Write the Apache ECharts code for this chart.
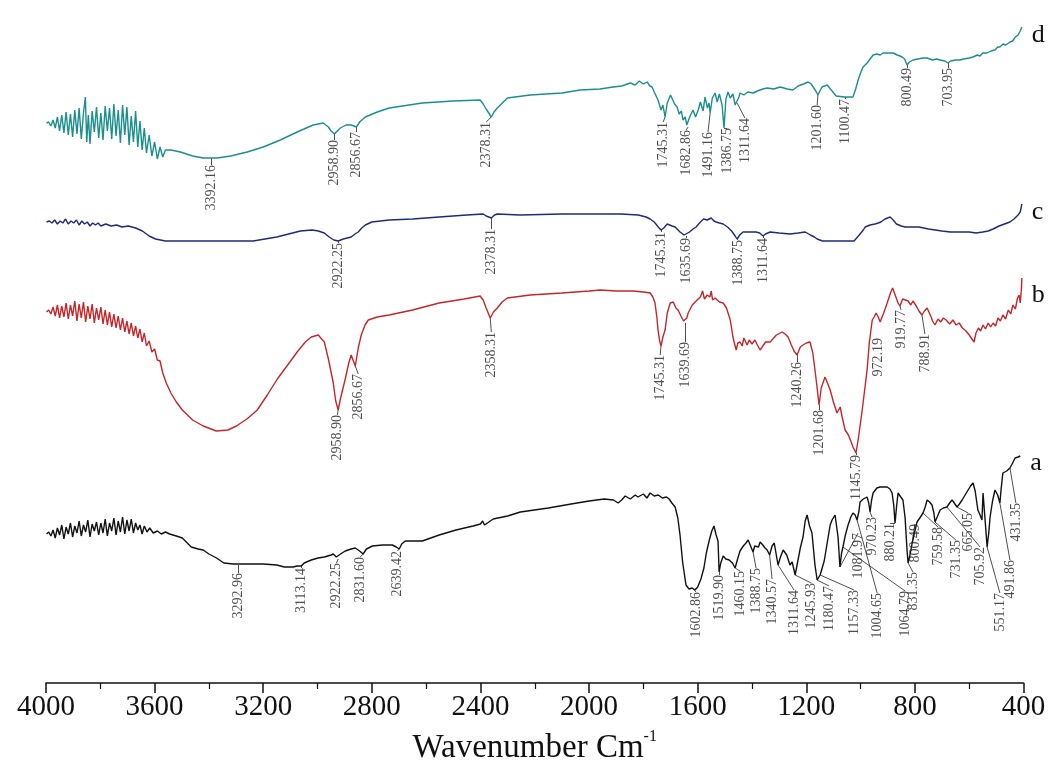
<!DOCTYPE html>
<html><head><meta charset="utf-8">
<script src="https://cdn.jsdelivr.net/npm/echarts@6/dist/echarts.min.js"></script>
<style>html,body{margin:0;padding:0;background:#fff}#c{width:1051px;height:771px}</style>
</head><body><div id="c"></div>
<script>
// x: wavenumber (cm-1), y: relative transmittance (arbitrary offset units)
const xTicks = [4000,3600,3200,2800,2400,2000,1600,1200,800,400];
const seriesNames = ['a','b','c','d'];
const seriesColors = ['#111111','#c4262a','#1f2a78','#1b8f8c'];

const traceA = [[3998,149],[3990,151],[3982,147],[3974,153],[3966,145],[3958,155],[3950,148],[3942,158],[3934,144],[3926,156],[3918,149],[3910,160],[3902,146],[3894,157],[3886,150],[3878,162],[3870,147],[3862,158],[3854,151],[3846,163],[3838,146],[3830,159],[3822,152],[3814,161],[3806,148],[3798,160],[3790,150],[3782,164],[3774,147],[3766,160],[3758,152],[3750,165],[3742,148],[3734,162],[3726,151],[3718,166],[3710,149],[3702,163],[3694,152],[3686,164],[3678,150],[3670,160],[3662,153],[3654,158],[3646,149],[3638,157],[3628,151],[3618,155],[3605,150],[3590,152],[3575,149],[3560,151],[3545,149],[3520,147],[3498,145],[3465,136],[3440,134],[3421,133],[3400,129],[3372,125],[3345,120],[3310,119],[3270,119],[3237,119],[3200,119],[3150,118],[3122,116],[3090,116],[3075,117],[3060,117],[3049,120],[3023,123],[2998,125],[2975,126],[2950,128],[2942,129],[2931,126],[2924,124],[2915,129],[2898,132],[2876,134],[2861,135],[2845,132],[2832,129],[2820,134],[2798,137],[2760,138],[2725,138],[2710,136],[2699,134],[2690,139],[2677,142],[2614,142],[2552,148],[2490,153],[2427,157],[2400,159],[2392,162],[2385,158],[2353,164],[2300,167],[2253,171],[2150,175],[2066,179],[2000,182],[1944,184],[1910,183],[1893,180],[1880,183],[1867,187],[1848,184],[1830,188],[1820,186],[1800,189],[1787,185],[1775,190],[1760,187],[1745,188],[1730,185],[1715,186],[1705,184],[1695,180],[1683,176],[1673,165],[1665,148],[1655,120],[1643,98],[1632,94],[1620,95],[1610,93],[1600,96],[1588,104],[1577,115],[1568,130],[1558,142],[1548,152],[1540,157],[1532,148],[1525,142],[1521,111],[1515,120],[1506,127],[1496,124],[1484,123],[1472,120],[1462,115],[1452,125],[1444,132],[1432,137],[1422,140],[1414,143],[1407,142],[1396,131],[1390,137],[1384,139],[1376,136],[1370,141],[1360,138],[1352,135],[1344,133],[1335,128],[1326,137],[1318,140],[1304,118],[1295,126],[1285,133],[1272,128],[1260,118],[1252,121],[1241,108],[1234,110],[1222,135],[1212,146],[1204,162],[1197,168],[1188,157],[1179,150],[1168,118],[1160,103],[1153,101],[1149,108],[1134,122],[1123,140],[1112,158],[1105,163],[1094,168],[1083,146],[1076,116],[1070,130],[1065,136],[1056,148],[1046,158],[1036,166],[1028,170],[1020,168],[1013,163],[1006,172],[1002,181],[990,184],[976,186],[970,180],[965,171],[960,182],[954,190],[940,195],[928,196],[915,196],[902,196],[892,194],[884,190],[878,178],[873,160],[868,175],[862,190],[852,186],[844,183],[836,165],[829,133],[825,120],[818,128],[810,140],[800,152],[792,161],[782,165],[770,170],[762,176],[755,183],[746,181],[737,178],[730,170],[726,161],[718,166],[707,173],[695,175],[682,176],[672,180],[663,183],[655,180],[645,176],[636,179],[626,183],[615,188],[604,193],[595,197],[586,200],[578,192],[568,173],[560,168],[553,163],[549,190],[542,165],[534,136],[528,150],[523,166],[514,182],[505,193],[495,188],[487,180],[482,195],[476,210],[462,212],[450,215],[440,220],[431,225],[420,226],[412,227]];

const traceB = [[3998,371],[3990,373],[3982,369],[3974,376],[3966,367],[3958,378],[3950,365],[3942,377],[3934,366],[3926,380],[3918,364],[3910,378],[3902,367],[3894,382],[3886,362],[3878,379],[3870,365],[3862,381],[3854,361],[3846,377],[3838,364],[3830,379],[3822,360],[3814,375],[3806,363],[3798,376],[3790,359],[3782,373],[3774,358],[3766,371],[3758,356],[3750,369],[3742,355],[3734,367],[3726,353],[3718,365],[3710,351],[3702,362],[3694,349],[3686,360],[3678,347],[3670,357],[3662,345],[3654,354],[3646,341],[3638,350],[3630,337],[3620,342],[3610,331],[3600,334],[3590,323],[3580,322],[3570,310],[3557,300],[3540,290],[3520,281],[3498,273],[3460,263],[3421,257],[3373,252],[3330,253],[3299,257],[3260,264],[3222,273],[3185,288],[3148,304],[3110,318],[3075,331],[3045,341],[3023,346],[3010,347],[2997,348],[2988,345],[2975,341],[2960,324],[2942,300],[2933,282],[2924,273],[2915,285],[2898,304],[2885,320],[2876,328],[2868,322],[2861,317],[2850,335],[2839,348],[2825,358],[2813,363],[2780,366],[2736,368],[2650,373],[2552,380],[2460,384],[2401,387],[2390,383],[2379,375],[2364,365],[2352,371],[2338,375],[2320,381],[2301,385],[2217,388],[2100,390],[2000,392],[1959,393],[1900,392],[1838,392],[1800,391],[1775,390],[1765,386],[1757,380],[1750,365],[1746,353],[1740,342],[1735,337],[1728,346],[1720,353],[1712,370],[1701,380],[1694,379],[1690,381],[1680,375],[1672,373],[1660,366],[1652,362],[1646,360],[1640,365],[1635,370],[1620,378],[1602,383],[1590,386],[1582,392],[1575,384],[1565,388],[1555,386],[1550,392],[1545,383],[1536,385],[1520,381],[1506,380],[1494,375],[1480,363],[1470,346],[1465,340],[1458,333],[1452,340],[1444,341],[1436,337],[1430,345],[1418,338],[1410,343],[1400,339],[1389,343],[1380,338],[1370,333],[1363,335],[1350,341],[1333,341],[1310,348],[1289,351],[1278,349],[1267,346],[1255,338],[1245,332],[1234,328],[1222,336],[1212,338],[1200,340],[1186,341],[1176,330],[1168,313],[1160,295],[1153,278],[1145,295],[1131,306],[1122,300],[1112,293],[1100,281],[1087,270],[1080,272],[1075,276],[1068,266],[1057,253],[1045,248],[1036,242],[1028,236],[1017,230],[1008,245],[994,273],[985,293],[976,313],[968,340],[957,363],[950,366],[943,370],[935,366],[928,361],[915,370],[902,380],[890,390],[882,395],[870,386],[862,380],[855,377],[845,384],[835,383],[825,382],[815,378],[807,382],[795,377],[785,372],[774,368],[765,372],[755,375],[748,373],[740,366],[735,362],[726,358],[715,364],[705,361],[695,365],[685,363],[672,359],[660,363],[648,358],[637,360],[625,355],[612,352],[600,348],[590,344],[582,341],[575,350],[566,355],[558,352],[549,358],[540,354],[530,360],[521,356],[512,360],[503,357],[494,365],[485,362],[476,368],[466,364],[456,373],[447,369],[439,378],[430,374],[422,385],[416,388],[412,380],[408,393],[406,405]];

const traceC = [[3998,461],[3988,462],[3978,460],[3968,463],[3958,459],[3948,462],[3938,460],[3928,464],[3918,459],[3908,462],[3898,460],[3888,463],[3878,458],[3868,462],[3858,459],[3848,461],[3838,457],[3828,460],[3818,458],[3808,460],[3798,457],[3780,459],[3760,457],[3740,458],[3720,456],[3697,457],[3670,455],[3645,452],[3620,447],[3597,444],[3560,442],[3520,442],[3400,442],[3300,442],[3237,442],[3150,446],[3063,452],[3020,453],[2997,452],[2975,450],[2957,446],[2940,443],[2924,442],[2905,444],[2876,446],[2862,449],[2850,451],[2837,455],[2824,458],[2800,461],[2736,463],[2650,464],[2552,466],[2450,468],[2390,469],[2379,467],[2360,465],[2348,468],[2338,469],[2254,468],[2100,469],[1960,469],[1882,469],[1819,468],[1790,466],[1775,464],[1760,461],[1745,456],[1735,453],[1725,455],[1712,459],[1705,459],[1694,457],[1683,456],[1665,451],[1650,448],[1643,447],[1630,451],[1617,454],[1606,456],[1590,461],[1578,464],[1565,463],[1550,465],[1540,462],[1532,461],[1520,460],[1506,459],[1490,456],[1475,452],[1469,451],[1462,447],[1455,444],[1445,448],[1433,451],[1410,451],[1385,451],[1372,450],[1365,448],[1359,447],[1350,449],[1333,451],[1300,450],[1260,449],[1230,450],[1204,451],[1185,448],[1170,446],[1160,444],[1140,442],[1109,442],[1060,442],[1024,442],[1005,448],[990,453],[983,456],[965,458],[947,459],[935,460],[925,461],[910,464],[891,466],[880,463],[868,459],[862,459],[850,457],[836,456],[800,456],[785,456],[750,454],[700,452],[670,451],[638,451],[600,451],[575,450],[550,451],[530,452],[512,454],[490,457],[470,459],[450,461],[435,464],[420,468],[412,471],[406,479]];

const traceD = [[3998,560],[3990,561],[3982,557],[3974,563],[3966,555],[3958,566],[3950,552],[3942,568],[3934,550],[3926,571],[3918,548],[3910,569],[3902,546],[3894,573],[3886,549],[3878,575],[3870,544],[3862,570],[3855,586],[3850,541],[3844,568],[3838,539],[3830,572],[3822,551],[3814,576],[3806,545],[3798,570],[3790,543],[3782,577],[3774,552],[3766,575],[3758,544],[3750,579],[3742,547],[3734,573],[3726,540],[3718,578],[3710,548],[3702,576],[3694,538],[3686,567],[3678,541],[3670,572],[3662,536],[3654,562],[3646,533],[3638,555],[3630,530],[3620,548],[3610,527],[3600,541],[3590,524],[3580,536],[3570,526],[3560,533],[3540,533],[3505,531],[3460,527],[3421,525],[3391,525],[3369,525],[3320,527],[3259,531],[3200,536],[3137,543],[3075,551],[3016,558],[2979,560],[2960,556],[2950,552],[2938,549],[2927,552],[2916,555],[2895,558],[2876,558],[2866,557],[2857,556],[2845,561],[2824,566],[2780,571],[2736,575],[2614,580],[2500,582],[2401,583],[2390,579],[2379,574],[2360,566],[2350,571],[2338,575],[2301,585],[2217,588],[2100,590],[2033,593],[1960,594],[1911,596],[1880,597],[1848,600],[1830,598],[1815,602],[1800,599],[1786,601],[1776,597],[1768,596],[1760,591],[1746,583],[1735,573],[1728,578],[1720,566],[1712,580],[1700,588],[1694,586],[1685,579],[1676,576],[1668,569],[1660,572],[1654,563],[1646,566],[1640,558],[1635,556],[1628,567],[1617,573],[1608,566],[1598,573],[1590,581],[1580,572],[1573,586],[1564,575],[1558,580],[1554,570],[1546,585],[1536,590],[1528,581],[1520,589],[1510,578],[1503,555],[1496,584],[1488,591],[1480,585],[1470,589],[1462,578],[1455,580],[1448,586],[1444,590],[1430,588],[1415,591],[1396,590],[1380,592],[1360,594],[1344,595],[1320,594],[1296,596],[1270,594],[1249,593],[1230,597],[1210,599],[1193,601],[1182,599],[1175,598],[1165,592],[1157,588],[1150,592],[1142,596],[1132,597],[1123,598],[1105,592],[1090,587],[1083,586],[1060,586],[1040,586],[1028,586],[1018,594],[1009,603],[1000,610],[991,616],[976,620],[965,624],[954,628],[940,629],[928,628],[917,630],[900,630],[880,630],[865,628],[855,627],[847,626],[838,624],[829,618],[820,621],[807,623],[790,624],[770,625],[755,625],[735,623],[720,624],[707,623],[690,622],[678,620],[668,622],[650,623],[634,623],[620,624],[600,625],[586,626],[570,628],[560,627],[550,630],[534,630],[520,632],[505,633],[495,636],[487,636],[475,639],[465,638],[450,641],[440,642],[430,646],[420,648],[412,652],[406,656]];

// peak labels: [text, label wavenumber, label top value, peak wavenumber, peak value]
const labelsA = [["3292.96",3292,110,3292,118],["3113.14",3060,115,3060,117],["2922.25",2930,120,2924,124],["2831.60",2843,126,2832,129],["2639.42",2706,132,2699,134],["1602.86",1606,91,1620,95],["1519.90",1521,108,1521,111],["1460.15",1444,112,1462,115],["1388.75",1385,115,1396,131],["1340.57",1326,104,1335,128],["1311.64",1245,93,1304,118],["1245.93",1182,100,1241,108],["1180.47",1116,97,1160,103],["1157.33",1024,93,1149,108],["1081.97",1009,150,1076,116],["970.23",958,166,965,171],["1004.65",939,90,1013,163],["880.21",891,160,873,160],["1064.79",836,92,1065,136],["831.35",807,111,825,120],["800.49",800,159,810,140],["759.58",715,156,770,170],["731.35",649,143,726,161],["665.05",604,170,645,176],["705.92",560,136,682,176],["551.17",487,90,534,136],["491.86",450,123,487,180],["431.35",428,180,450,215]];
const labelsB = [["2958.90",2927,268,2924,273],["2856.67",2850,309,2861,317],["2358.31",2360,351,2364,365],["1745.31",1738,328,1735,337],["1639.69",1646,341,1646,360],["1240.26",1234,321,1234,328],["1201.68",1153,273,1153,278],["1145.79",1017,228,1017,230],["972.19",935,345,935,345],["919.77",851,373,855,377],["788.91",763,349,774,368]];
const labelsC = [["2922.25",2924,440,2924,442],["2378.31",2360,454,2360,465],["1745.31",1735,451,1735,453],["1635.69",1643,445,1643,447],["1388.75",1451,443,1455,444],["1311.64",1359,445,1359,447]];
const labelsD = [["3392.16",3391,518,3391,525],["2958.90",2938,543,2938,549],["2856.67",2857,551,2857,556],["2378.31",2379,561,2360,566],["1745.31",1727,561,1720,566],["1682.86",1643,553,1635,556],["1491.16",1562,551,1554,570],["1386.75",1492,555,1503,555],["1311.64",1426,565,1455,580],["1201.60",1160,578,1157,588],["1100.47",1057,584,1057,586],["800.49",829,615,829,618],["703.95",678,615,678,620]];

const traces = [traceA, traceB, traceC, traceD];
const labelSets = [labelsA, labelsB, labelsC, labelsD];
const endOffsets = [[16,7],[16,17],[16,8],[16,8]];

const serif = 'Liberation Serif, DejaVu Serif, serif';
const series = [];
traces.forEach((tr, i) => {
  series.push({
    type: 'line', name: seriesNames[i], data: tr, showSymbol: false, symbol: 'none',
    lineStyle: {color: seriesColors[i], width: 1.4}, z: 3,
    endLabel: {show: true, formatter: seriesNames[i], fontFamily: serif, fontSize: 26,
      color: '#111', offset: endOffsets[i], distance: 6, align: 'left'}
  });
});
const allLabels = [].concat(...labelSets);
series.push({
  type: 'lines', coordinateSystem: 'cartesian2d', polyline: false, silent: true, z: 2,
  lineStyle: {color: '#222', width: 0.8, opacity: 1},
  data: allLabels.map(l => ({coords: [[l[3], l[4]], [l[1], l[2]]]}))
});
series.push({
  type: 'scatter', symbolSize: 0, silent: true, z: 4,
  data: allLabels.map(l => [l[1], l[2], l[0]]),
  label: {show: true, position: [0, 0], rotate: 90, align: 'right', verticalAlign: 'middle',
    formatter: p => p.value[2], fontFamily: serif, fontSize: 14, color: '#222'}
});

const chart = echarts.init(document.getElementById('c'));
chart.setOption({
  animation: false,
  backgroundColor: '#fff',
  grid: {left: 46, right: 27.5, top: 20, bottom: 88, containLabel: false},
  xAxis: {
    type: 'value', inverse: true, min: 400, max: 4000, interval: 400,
    name: '{m|Wavenumber Cm}{s|-1}', nameLocation: 'middle', nameGap: 46,
    nameTextStyle: {rich: {m: {fontFamily: serif, fontSize: 33, color: '#111', verticalAlign: 'bottom', lineHeight: 36},
      s: {fontFamily: serif, fontSize: 16, color: '#111', verticalAlign: 'top', lineHeight: 36}}},
    axisLine: {onZero: false, lineStyle: {color: '#111', width: 1.5}},
    axisTick: {show: true, inside: false, length: 10, lineStyle: {color: '#111', width: 1.5}},
    minorTick: {show: true, splitNumber: 2, length: 6, lineStyle: {color: '#111', width: 1.2}},
    splitLine: {show: false},
    axisLabel: {fontFamily: serif, fontSize: 29, color: '#111', margin: 10,
      formatter: v => xTicks.includes(v) ? String(v) : ''}
  },
  yAxis: {type: 'value', min: 0, max: 663, show: false},
  series: series
});
</script>
</body></html>
